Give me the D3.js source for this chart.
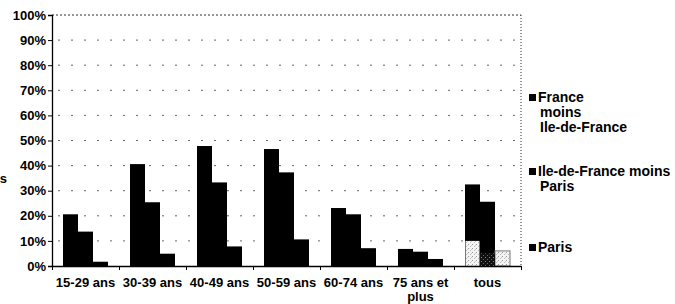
<!DOCTYPE html>
<html><head><meta charset="utf-8">
<script src="https://cdn.jsdelivr.net/npm/d3@7"></script>
<style>
body{margin:0;background:#fff;}
svg{display:block;}
text{font-family:"Liberation Sans",Arial,sans-serif;font-weight:bold;fill:#000;}
</style></head>
<body>
<script>
const categories = ["15-29 ans","30-39 ans","40-49 ans","50-59 ans","60-74 ans","75 ans et plus","tous"];
const categoryLines = [["15-29 ans"],["30-39 ans"],["40-49 ans"],["50-59 ans"],["60-74 ans"],["75 ans et","plus"],["tous"]];
const seriesNames = ["France moins Ile-de-France","Ile-de-France moins Paris","Paris"];
const legendLines = [["France","moins","Ile-de-France"],["Ile-de-France moins","Paris"],["Paris"]];
const franceMoinsIdf = [20.6, 40.6, 47.8, 46.6, 23.1, 6.8, 32.5];
const idfMoinsParis  = [13.7, 25.4, 33.3, 37.3, 20.6, 5.7, 25.6];
const paris          = [1.7, 4.9, 7.8, 10.6, 7.1, 2.8, 6.0];
const tousLight = [10.0, 5.0];   // stippled lower parts in the "tous" group
const yTicks = [0,10,20,30,40,50,60,70,80,90,100];

const W = 675, H = 304;
const svg = d3.select("body").append("svg").attr("width",W).attr("height",H);
const defs = svg.append("defs");
const pl = defs.append("pattern").attr("id","light").attr("patternUnits","userSpaceOnUse").attr("width",4).attr("height",4);
pl.append("rect").attr("width",4).attr("height",4).attr("fill","#f4f4f4");
pl.append("rect").attr("x",0).attr("y",0).attr("width",1).attr("height",1).attr("fill","#999");
pl.append("rect").attr("x",2).attr("y",2).attr("width",1).attr("height",1).attr("fill","#bbb");
pl.append("rect").attr("x",3).attr("y",1).attr("width",1).attr("height",1).attr("fill","#ccc");
const pd = defs.append("pattern").attr("id","dark").attr("patternUnits","userSpaceOnUse").attr("width",4).attr("height",4);
pd.append("rect").attr("width",4).attr("height",4).attr("fill","#111");
pd.append("rect").attr("x",1).attr("y",1).attr("width",1).attr("height",1).attr("fill","#888");
pd.append("rect").attr("x",3).attr("y",3).attr("width",1).attr("height",1).attr("fill","#666");

const x0 = 52, x1 = 521, yTop = 15, yBot = 266;
const y = d3.scaleLinear().domain([0,100]).range([yBot,yTop]);
const xg = d3.scaleBand().domain(categories).range([x0,x1]).padding(0);
const xs = d3.scaleBand().domain(seriesNames).range([11, xg.bandwidth()-11]).padding(0);

// gridlines
svg.append("g").selectAll("line").data(yTicks.filter(t=>t>0 && t<100)).join("line")
  .attr("x1",x0+2).attr("x2",x1).attr("y1",d=>y(d)).attr("y2",d=>y(d))
  .attr("stroke","#666").attr("stroke-width",1).attr("stroke-dasharray","2,11").attr("stroke-dashoffset",-4);
svg.append("line").attr("x1",x0).attr("x2",x1).attr("y1",y(100)).attr("y2",y(100))
  .attr("stroke","#333").attr("stroke-dasharray","2,2");
svg.append("line").attr("x1",x1).attr("x2",x1).attr("y1",y(100)).attr("y2",y(0))
  .attr("stroke","#333").attr("stroke-dasharray","1,2");

// bars
const data = categories.map((c,i)=>({cat:c, vals:[franceMoinsIdf[i], idfMoinsParis[i], paris[i]]}));
const g = svg.append("g").selectAll("g").data(data).join("g")
  .attr("transform",d=>`translate(${xg(d.cat)},0)`);
g.selectAll("rect").data(d=>d.vals.map((v,j)=>({s:seriesNames[j], v, cat:d.cat, j}))).join("rect")
  .attr("x",d=>xs(d.s)).attr("width",xs.bandwidth())
  .attr("y",d=>y(d.v)).attr("height",d=>y(0)-y(d.v))
  .attr("fill",d=> (d.cat==="tous" && d.j===2) ? "url(#light)" : "#000")
  .attr("stroke",d=> (d.cat==="tous" && d.j===2) ? "#777" : "none");
// stippled parts in "tous"
svg.append("g").selectAll("rect").data(tousLight).join("rect")
  .attr("x",(d,j)=>xg("tous")+xs(seriesNames[j])+(j===0?0.5:0))
  .attr("width",(d,j)=>xs.bandwidth()-(j===0?1:0))
  .attr("y",d=>y(d)).attr("height",d=>y(0)-y(d))
  .attr("fill",(d,j)=> j===0 ? "url(#light)" : "url(#dark)");

// axes
const yAxis = d3.axisLeft(y).tickValues(yTicks).tickFormat(d=>d+"%").tickSize(4).tickPadding(2);
const ya = svg.append("g").attr("transform",`translate(${x0},0)`).call(yAxis);
ya.select(".domain").attr("stroke","#000").attr("stroke-width",1.3);
ya.selectAll(".tick line").attr("stroke","#000");
ya.selectAll("text").style("font-size","13px").style("font-family",'"Liberation Sans",Arial,sans-serif').style("font-weight","bold").attr("fill","#000");

const xAxisScale = d3.scaleLinear().domain([0,categories.length]).range([x0,x1]);
const xa = svg.append("g").attr("transform",`translate(0,${yBot})`)
  .call(d3.axisBottom(xAxisScale).tickValues(d3.range(0,categories.length+1)).tickFormat("").tickSize(4).tickSizeOuter(0));
xa.select(".domain").attr("stroke","#000").attr("stroke-width",1.3);
xa.selectAll(".tick line").attr("stroke","#000");

// category labels
const cl = svg.append("g").selectAll("text").data(categories).join("text")
  .attr("x",d=>xg(d)+xg.bandwidth()/2).attr("y",287).attr("text-anchor","middle").style("font-size","13px");
cl.each(function(d,i){
  const t = d3.select(this);
  categoryLines[i].forEach((ln,k)=>{
    t.append("tspan").attr("x",xg(d)+xg.bandwidth()/2).attr("dy",k===0?0:14).text(ln);
  });
});

// cut-off axis title
svg.append("text").attr("x",7).attr("y",183).attr("text-anchor","end").style("font-size","13px").text("s");

// legend
const legendY = [102, 176, 252];
const lg = svg.append("g").selectAll("g").data(seriesNames).join("g");
lg.append("rect").attr("x",529).attr("y",(d,i)=>legendY[i]-8).attr("width",7).attr("height",7).attr("fill","#000");
lg.append("text").attr("x",538).attr("y",(d,i)=>legendY[i]).style("font-size","14px")
  .each(function(d,i){
    const t = d3.select(this);
    legendLines[i].forEach((ln,k)=>{
      t.append("tspan").attr("x",k===0?538:540).attr("dy",k===0?0:15).text(ln);
    });
  });
</script>
</body></html>
